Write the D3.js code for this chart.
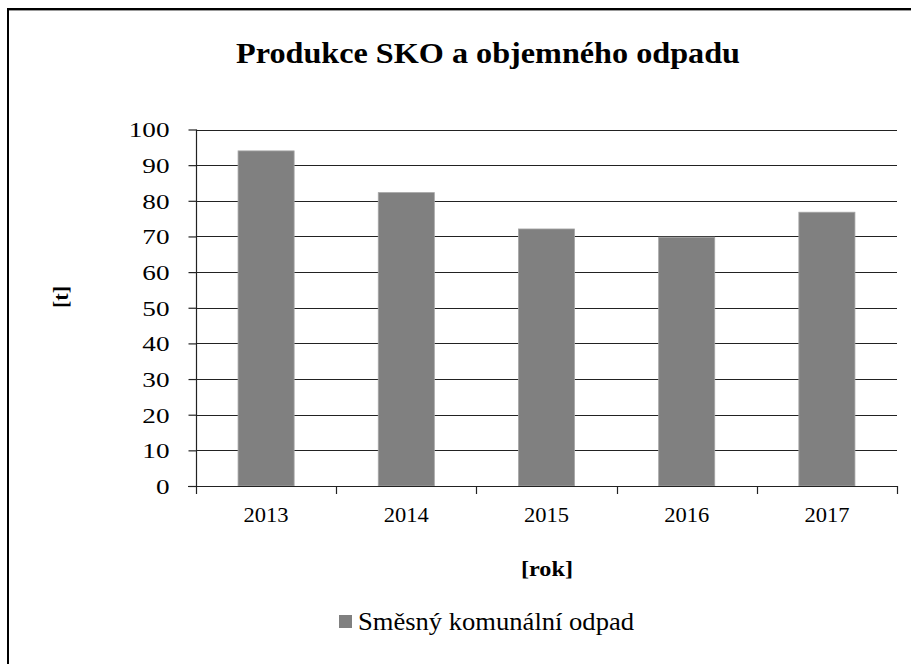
<!DOCTYPE html>
<html><head><meta charset="utf-8">
<script src="https://cdn.jsdelivr.net/npm/d3@7"></script>
<style>body{margin:0;background:#fff}svg{display:block}
svg text{font-family:"Liberation Serif","Times New Roman","DejaVu Serif",serif !important;}
</style>
</head><body>
<script>
const categories = ["2013","2014","2015","2016","2017"];
const values = [94.0, 82.3, 72.1, 69.8, 76.8];
const yTicks = [0,10,20,30,40,50,60,70,80,90,100];
const title = "Produkce SKO a objemného odpadu";
const seriesName = "Směsný komunální odpad";
const yTitle = "[t]";
const xTitle = "[rok]";

const W = 911, H = 664;
const svg = d3.select("body").append("svg").attr("width", W).attr("height", H);
svg.append("rect").attr("width", W).attr("height", H).attr("fill", "#fff");
// outer frame
svg.append("rect").attr("x", 8).attr("y", 9).attr("width", W + 20).attr("height", H + 20)
  .attr("fill", "none").attr("stroke", "#000").attr("stroke-width", 2);
svg.append("line").attr("x1", 9).attr("x2", W).attr("y1", 10.5).attr("y2", 10.5)
  .attr("stroke", "#999").attr("stroke-width", 1);

const L = 196, R = 897, T = 129.5, B = 486;
const x = d3.scaleBand().domain(categories).range([L, R]).paddingInner(0.6).paddingOuter(0.3);
const y = d3.scaleLinear().domain([0, 100]).range([B, T]);

function fitWidth(sel, w) {
  sel.each(function () {
    const len = this.getComputedTextLength();
    if (len > 0) d3.select(this).attr("textLength", w).attr("lengthAdjust", "spacingAndGlyphs");
  });
}

// gridlines
svg.append("g").selectAll("line").data(yTicks.filter(d => d > 0)).join("line")
  .attr("x1", L).attr("x2", R).attr("y1", d => Math.round(y(d)) + 0.5).attr("y2", d => Math.round(y(d)) + 0.5)
  .attr("stroke", "#222").attr("stroke-width", 1.2);

// bars
svg.append("g").selectAll("rect").data(values).join("rect")
  .attr("x", (d, i) => x(categories[i])).attr("width", x.bandwidth())
  .attr("y", d => y(d)).attr("height", d => B - y(d))
  .attr("fill", "#808080").attr("stroke", "#a6a6a6").attr("stroke-width", 0.8);

// y axis
const yAxis = svg.append("g").attr("transform", `translate(${L + 0.5},0)`)
  .call(d3.axisLeft(y).tickValues(yTicks).tickSize(8).tickPadding(19).tickFormat(d3.format("d")));
yAxis.select(".domain").attr("stroke", "#222").attr("stroke-width", 1.2).attr("d", `M0,${T}V${B}`);
yAxis.selectAll(".tick line").attr("stroke", "#222").attr("stroke-width", 1.2);
yAxis.selectAll("text").attr("font-size", 22).attr("fill", "#000").attr("dy", "0.34em")
  .each(function (d) {
    const n = String(d).length;
    d3.select(this).attr("textLength", n * 13.6).attr("lengthAdjust", "spacingAndGlyphs");
  });

// x axis: ticks at category boundaries
const step = x.step();
const bounds = d3.range(categories.length + 1).map(i => L + i * step);
const xg = svg.append("g");
xg.append("line").attr("x1", L - 8).attr("x2", R).attr("y1", B + 0.5).attr("y2", B + 0.5)
  .attr("stroke", "#222").attr("stroke-width", 1.2);
xg.selectAll("line.t").data(bounds).join("line").attr("class", "t")
  .attr("x1", d => Math.round(d) + 0.5).attr("x2", d => Math.round(d) + 0.5)
  .attr("y1", B).attr("y2", B + 8).attr("stroke", "#222").attr("stroke-width", 1.2);
xg.selectAll("text").data(categories).join("text")
  .attr("x", d => x(d) + x.bandwidth() / 2).attr("y", 522)
  .attr("text-anchor", "middle").attr("font-size", 21).text(d => d)
  .call(fitWidth, 45);

// titles
svg.append("text").attr("x", 488).attr("y", 63).attr("text-anchor", "middle")
  .attr("font-weight", "bold").attr("font-size", 30).text(title).call(fitWidth, 504);
svg.append("text").attr("transform", "translate(68,297) rotate(-90)").attr("text-anchor", "middle")
  .attr("font-weight", "bold").attr("font-size", 22).text(yTitle);
svg.append("text").attr("x", 547).attr("y", 576).attr("text-anchor", "middle")
  .attr("font-weight", "bold").attr("font-size", 22).text(xTitle).call(fitWidth, 52);

// legend
const lg = svg.append("g");
lg.append("rect").attr("x", 339).attr("y", 615).attr("width", 13).attr("height", 13).attr("fill", "#808080");
lg.append("text").attr("x", 358).attr("y", 630).attr("font-size", 26).text(seriesName).call(fitWidth, 276);
</script>
</body></html>
